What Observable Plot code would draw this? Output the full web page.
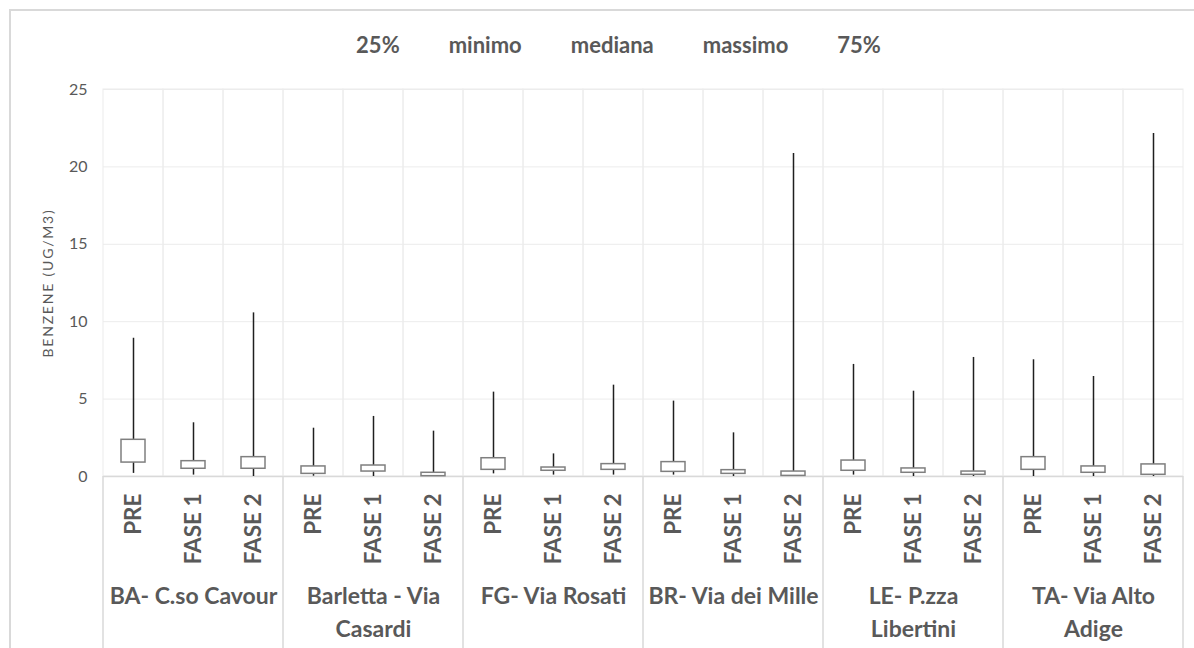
<!DOCTYPE html>
<html>
<head>
<meta charset="utf-8">
<script src="https://cdn.jsdelivr.net/npm/d3@7"></script>
<script src="https://cdn.jsdelivr.net/npm/@observablehq/plot@0.6"></script>
<style>
  html, body { margin: 0; background: #fff; }
  body { width: 1194px; height: 648px; overflow: hidden; position: relative; font-family: Lato, "Open Sans", sans-serif; }
  #frame { position: absolute; left: 9px; top: 9px; width: 1300px; height: 700px; border: 2px solid #d9d9d9; box-sizing: border-box; }
  #chart { position: absolute; left: 0; top: 0; }
  #legend { position: absolute; left: 0; top: 31px; width: 1237px; display: flex; justify-content: center; gap: 49px;
            font-weight: 700; font-size: 22px; line-height: 27px; color: #595959; }
</style>
</head>
<body>
<div id="frame"></div>
<div id="chart"></div>
<div id="legend"></div>
<script>
// Monitoring stations and campaign phases
const stations = ["BA- C.so Cavour", "Barletta - Via\nCasardi", "FG- Via Rosati", "BR- Via dei Mille", "LE- P.zza\nLibertini", "TA- Via Alto\nAdige"];
const phases = ["PRE", "FASE 1", "FASE 2"];

// Benzene concentration statistics (ug/m3), one value per station × phase
const minimo  = [0.20, 0.09, 0.00,  0.02, 0.00, 0.00,  0.17, 0.09, 0.09,  0.09, 0.00, 0.00,  0.09, 0.00, 0.00,  0.00, 0.00, 0.00];
const q25     = [0.90, 0.50, 0.50,  0.17, 0.32, 0.02,  0.43, 0.37, 0.43,  0.30, 0.17, 0.04,  0.37, 0.24, 0.11,  0.43, 0.24, 0.11];
const q75     = [2.37, 0.99, 1.25,  0.65, 0.71, 0.24,  1.18, 0.58, 0.80,  0.93, 0.41, 0.32,  1.03, 0.52, 0.32,  1.25, 0.65, 0.78];
const massimo = [8.93, 3.47, 10.57, 3.12, 3.88, 2.93,  5.45, 1.46, 5.90,  4.87, 2.82, 20.87, 7.24, 5.51, 7.69,  7.54, 6.46, 22.16];

const legendItems = ["25%", "minimo", "mediana", "massimo", "75%"];
const yTicks = [0, 5, 10, 15, 20, 25];
const yLabel = "BENZENE (UG/M3)";

const textColor = "#595959";

// One row per box
const rows = stations.flatMap((s, i) => phases.map((p, j) => {
  const k = i * phases.length + j;
  return {key: s + "|" + p, station: s, phase: p, min: minimo[k], q1: q25[k], q3: q75[k], max: massimo[k]};
}));
const keys = rows.map(d => d.key);
const middleRows = rows.filter(d => d.phase === phases[1]);
const yTop = yTicks[yTicks.length - 1];

const chart = Plot.plot({
  width: 1194,
  height: 648,
  marginLeft: 103,
  marginRight: 11,
  marginTop: 89,
  marginBottom: 172,
  style: {fontFamily: "Lato, 'Open Sans', sans-serif", color: textColor, background: "transparent", overflow: "visible"},
  x: {type: "band", domain: keys, padding: 0, axis: null},
  y: {domain: [0, yTop], axis: null},
  marks: [
    // horizontal gridlines
    Plot.ruleY(yTicks.filter(t => t > 0), {stroke: "#ececec", strokeWidth: 1}),
    // vertical gridlines on each category boundary
    Plot.barY(rows, {x: "key", y1: 0, y2: yTop, fill: "none", stroke: "#ececec", strokeWidth: 1}),
    // y tick labels
    Plot.axisY(yTicks, {tickSize: 0, tickPadding: 16, fontSize: 16, label: null, fill: textColor}),
    // y axis title
    Plot.text([yLabel], {frameAnchor: "left", textAnchor: "middle", rotate: -90, dx: -55, fontSize: 14, fill: textColor}),
    // baseline
    Plot.ruleY([0], {stroke: "#d9d9d9", strokeWidth: 1.5}),
    // min–max whiskers
    Plot.ruleX(rows, {x: "key", y1: "min", y2: "max", stroke: "#1f1f1f", strokeWidth: 1.5}),
    // 25%–75% boxes
    Plot.barY(rows, {x: "key", y1: "q1", y2: "q3", fill: "#fff", stroke: "#7f7f7f", strokeWidth: 1.5, insetLeft: 18, insetRight: 18}),
    // phase labels
    Plot.text(rows, {x: "key", y: 0, text: "phase", rotate: -90, textAnchor: "end", dy: 17, fontSize: 22.5, fontWeight: 700, fill: textColor}),
    // station labels
    Plot.text(middleRows, {x: "key", y: 0, text: "station", lineAnchor: "top", dy: 105, lineHeight: 1.4, fontSize: 23, fontWeight: 700, fill: textColor})
  ]
});

// station separators below the baseline
const xs = chart.scale("x");
const ys = chart.scale("y");
const bw = xs.bandwidth;
const edges = stations.map((s, i) => xs.apply(keys[i * phases.length]))
  .concat([xs.apply(keys[keys.length - 1]) + bw]);
d3.select(chart).append("g")
  .selectAll("line").data(edges).join("line")
  .attr("x1", d => d).attr("x2", d => d)
  .attr("y1", ys.apply(0)).attr("y2", 648)
  .attr("stroke", "#d9d9d9").attr("stroke-width", 1.5);

// letter spacing for the y axis title
d3.select(chart).selectAll("text").filter(function () { return this.textContent === yLabel; })
  .attr("letter-spacing", "1.8px");

document.getElementById("chart").appendChild(chart);

// legend row
d3.select("#legend").selectAll("span").data(legendItems).join("span").text(d => d);
</script>
</body>
</html>
